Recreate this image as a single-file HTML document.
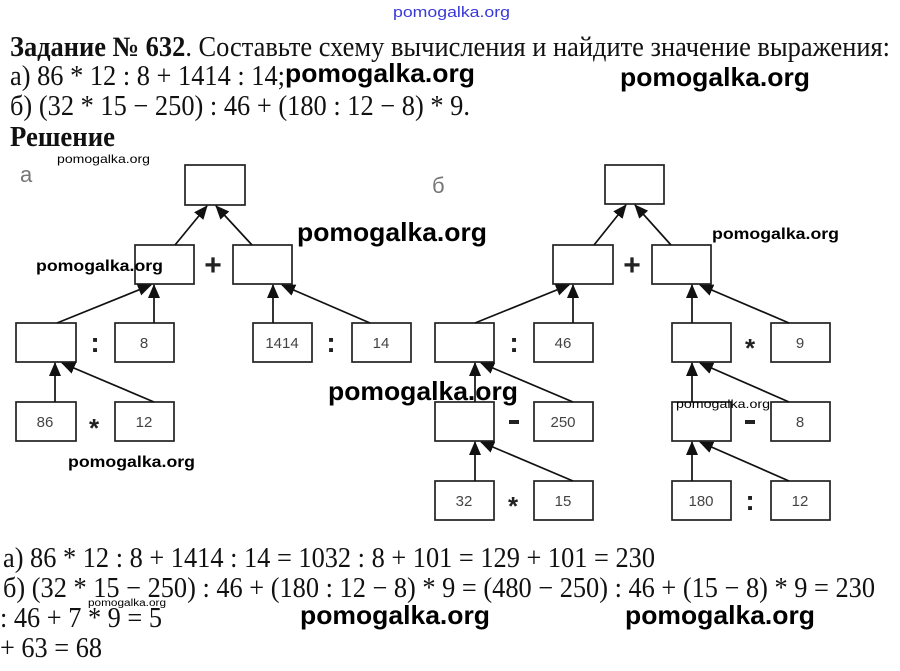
<!DOCTYPE html>
<html><head><meta charset="utf-8"><style>
html,body{margin:0;padding:0;background:#fff;}
svg{display:block;}
.t{font-family:"Liberation Serif","Noto Serif CJK SC",serif;font-size:28px;fill:#111;}
.w{font-family:"Liberation Sans",sans-serif;font-weight:bold;fill:#000;}
.n{font-family:"Liberation Sans",sans-serif;font-size:15px;fill:#444;text-anchor:middle;}
.op{font-family:"Liberation Sans",sans-serif;font-weight:bold;fill:#222;text-anchor:middle;}
rect{fill:#fff;stroke:#222;stroke-width:1.7;}
line{stroke:#111;stroke-width:1.7;marker-end:url(#a);}
</style></head><body>
<svg width="900" height="671" viewBox="0 0 900 671" xmlns="http://www.w3.org/2000/svg">
<defs><marker id="a" markerWidth="14" markerHeight="12" refX="13" refY="6" orient="auto" markerUnits="userSpaceOnUse"><path d="M0,0 L14,6 L0,12 z" fill="#111"/></marker></defs>
<text x="393" y="17" font-family="Liberation Sans,sans-serif" font-size="15" fill="#3838d8" textLength="117" lengthAdjust="spacingAndGlyphs">pomogalka.org</text>
<text class="t" x="10" y="56" textLength="880" lengthAdjust="spacingAndGlyphs"><tspan font-weight="bold">Задание № 632</tspan>. Составьте схему вычисления и найдите значение выражения:</text>
<text class="t" x="10" y="85" textLength="275" lengthAdjust="spacingAndGlyphs">а) 86 * 12 : 8 + 1414 : 14;</text>
<text class="t" x="10" y="115" textLength="460" lengthAdjust="spacingAndGlyphs">б) (32 * 15 − 250) : 46 + (180 : 12 − 8) * 9.</text>
<text class="t" x="10" y="146" font-weight="bold" textLength="105" lengthAdjust="spacingAndGlyphs">Решение</text>
<text x="20" y="182" font-family="Liberation Sans,sans-serif" font-size="22" fill="#777">а</text>
<text x="432" y="193" font-family="Liberation Sans,sans-serif" font-size="22" fill="#777">б</text>
<!-- left tree -->
<rect x="185" y="165" width="60" height="40"/>
<rect x="135" y="245" width="59" height="39"/><rect x="233" y="245" width="59" height="39"/>
<rect x="16" y="323" width="60" height="39"/><rect x="115" y="323" width="59" height="39"/>
<rect x="253" y="323" width="59" height="39"/><rect x="352" y="323" width="59" height="39"/>
<rect x="16" y="402" width="60" height="39"/><rect x="115" y="402" width="59" height="39"/>
<text class="n" x="144" y="348">8</text><text class="n" x="282" y="348">1414</text><text class="n" x="381" y="348">14</text>
<text class="n" x="45" y="427">86</text><text class="n" x="144" y="427">12</text>
<line x1="175" y1="245" x2="207" y2="206"/><line x1="252" y1="245" x2="216" y2="206"/>
<line x1="57" y1="323" x2="151" y2="285"/><line x1="154" y1="323" x2="154" y2="285"/>
<line x1="273" y1="323" x2="273" y2="285"/><line x1="370" y1="323" x2="282" y2="285"/>
<line x1="55" y1="402" x2="55" y2="363"/><line x1="154" y1="402" x2="62" y2="363"/>
<text class="op" x="213" y="275" font-size="30">+</text>
<text class="op" x="95" y="352" font-size="28">:</text><text class="op" x="331" y="352" font-size="28">:</text>
<text class="op" x="94" y="437" font-size="26">*</text>
<!-- right tree -->
<rect x="605" y="165" width="59" height="39"/>
<rect x="553" y="245" width="60" height="39"/><rect x="652" y="245" width="59" height="39"/>
<rect x="435" y="323" width="59" height="39"/><rect x="534" y="323" width="59" height="39"/>
<rect x="672" y="323" width="59" height="39"/><rect x="771" y="323" width="59" height="39"/>
<rect x="435" y="402" width="59" height="39"/><rect x="534" y="402" width="59" height="39"/>
<rect x="672" y="402" width="59" height="39"/><rect x="771" y="402" width="59" height="39"/>
<rect x="435" y="481" width="59" height="39"/><rect x="534" y="481" width="59" height="39"/>
<rect x="672" y="481" width="59" height="39"/><rect x="771" y="481" width="59" height="39"/>
<text class="n" x="563" y="348">46</text><text class="n" x="800" y="348">9</text>
<text class="n" x="563" y="427">250</text><text class="n" x="800" y="427">8</text>
<text class="n" x="464" y="506">32</text><text class="n" x="563" y="506">15</text>
<text class="n" x="701" y="506">180</text><text class="n" x="800" y="506">12</text>
<line x1="594" y1="245" x2="626" y2="205"/><line x1="671" y1="245" x2="635" y2="205"/>
<line x1="475" y1="323" x2="569" y2="285"/><line x1="573" y1="323" x2="573" y2="285"/>
<line x1="692" y1="323" x2="692" y2="285"/><line x1="789" y1="323" x2="700" y2="285"/>
<line x1="475" y1="402" x2="475" y2="363"/><line x1="573" y1="402" x2="481" y2="363"/>
<line x1="692" y1="402" x2="692" y2="363"/><line x1="789" y1="402" x2="700" y2="363"/>
<line x1="475" y1="481" x2="475" y2="442"/><line x1="573" y1="481" x2="481" y2="442"/>
<line x1="692" y1="481" x2="692" y2="442"/><line x1="789" y1="481" x2="700" y2="442"/>
<text class="op" x="632" y="275" font-size="30">+</text>
<text class="op" x="514" y="352" font-size="28">:</text><text class="op" x="750" y="357" font-size="26">*</text>
<rect x="509" y="420" width="10" height="4" style="fill:#222;stroke:none"/><rect x="745" y="420" width="10" height="4" style="fill:#222;stroke:none"/>
<text class="op" x="513" y="515" font-size="26">*</text><text class="op" x="750" y="510" font-size="28">:</text>
<!-- answers -->
<text class="t" x="3" y="567" textLength="652" lengthAdjust="spacingAndGlyphs">а) 86 * 12 : 8 + 1414 : 14 = 1032 : 8 + 101 = 129 + 101 = 230</text>
<text class="t" x="3" y="597" textLength="872" lengthAdjust="spacingAndGlyphs">б) (32 * 15 − 250) : 46 + (180 : 12 − 8) * 9 = (480 − 250) : 46 + (15 − 8) * 9 = 230</text>
<text class="t" x="0" y="627" textLength="162" lengthAdjust="spacingAndGlyphs">: 46 + 7 * 9 = 5</text>
<text class="t" x="0" y="657" textLength="102" lengthAdjust="spacingAndGlyphs">+ 63 = 68</text>
<!-- watermarks -->
<g class="w">
<text x="285" y="82" font-size="26" textLength="190" lengthAdjust="spacingAndGlyphs">pomogalka.org</text>
<text x="620" y="86" font-size="26" textLength="190" lengthAdjust="spacingAndGlyphs">pomogalka.org</text>
<text x="297" y="241" font-size="26" textLength="190" lengthAdjust="spacingAndGlyphs">pomogalka.org</text>
<text x="328" y="400" font-size="26" textLength="190" lengthAdjust="spacingAndGlyphs">pomogalka.org</text>
<text x="300" y="624" font-size="26" textLength="190" lengthAdjust="spacingAndGlyphs">pomogalka.org</text>
<text x="625" y="624" font-size="26" textLength="190" lengthAdjust="spacingAndGlyphs">pomogalka.org</text>
<text x="36" y="271" font-size="16" textLength="127" lengthAdjust="spacingAndGlyphs">pomogalka.org</text>
<text x="68" y="467" font-size="16" textLength="127" lengthAdjust="spacingAndGlyphs">pomogalka.org</text>
<text x="712" y="239" font-size="16" textLength="127" lengthAdjust="spacingAndGlyphs">pomogalka.org</text>
<text x="57" y="163" font-size="12" font-weight="normal" textLength="93" lengthAdjust="spacingAndGlyphs">pomogalka.org</text>
<text x="676" y="408" font-size="12" font-weight="normal" textLength="94" lengthAdjust="spacingAndGlyphs">pomogalka.org</text>
<text x="88" y="606" font-size="10" font-weight="normal" textLength="78" lengthAdjust="spacingAndGlyphs">pomogalka.org</text>
</g>
</svg>
</body></html>
